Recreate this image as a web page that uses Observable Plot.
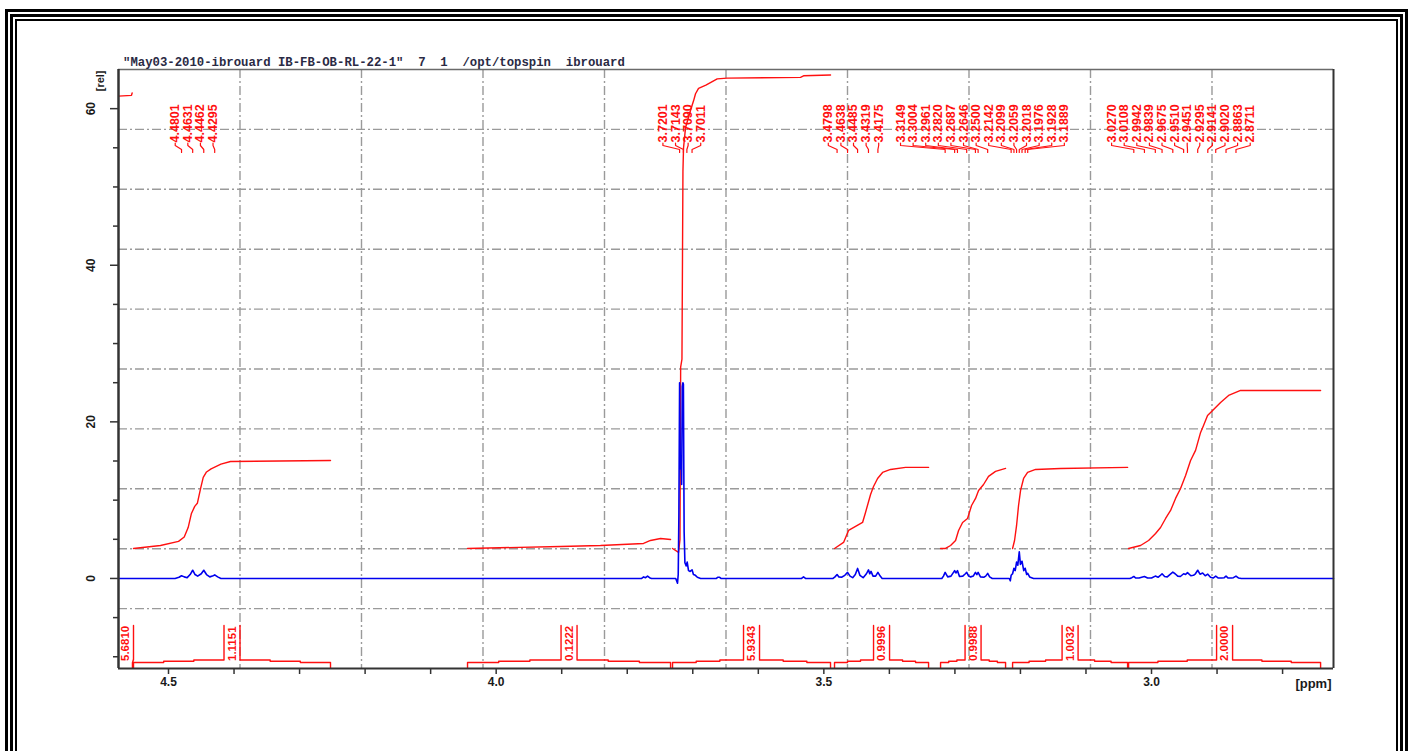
<!DOCTYPE html>
<html><head><meta charset="utf-8">
<script src="https://cdn.jsdelivr.net/npm/d3@7"></script>
<script src="https://cdn.jsdelivr.net/npm/@observablehq/plot@0.6"></script>
<style>
html,body{margin:0;padding:0;background:#fff;width:1412px;height:751px;overflow:hidden;}
#wrap{position:relative;width:1412px;height:751px;overflow:hidden;}
#chart{position:absolute;left:0;top:0;}
.bd{position:absolute;border-style:solid;border-color:#000;box-sizing:border-box;}
#title{position:absolute;left:123px;top:56px;font-family:"Liberation Mono","DejaVu Sans Mono",monospace;font-weight:bold;font-size:12.3px;color:#2a2a44;white-space:pre;letter-spacing:0;}
</style></head>
<body><div id="wrap">
<div id="chart"></div>
<div class="bd" style="left:5px;top:9px;width:1403px;height:800px;border-width:3px;"></div>
<div class="bd" style="left:10px;top:14px;width:1393px;height:800px;border-width:3px;"></div>
<div class="bd" style="left:15px;top:19px;width:1383px;height:800px;border-width:2px;"></div>
<div id="title">"May03-2010-ibrouard IB-FB-OB-RL-22-1"  7  1  /opt/topspin  ibrouard</div>
</div>
<script>
// ---------- data ----------
const xMajorTicks = [4.5, 4.0, 3.5, 3.0];
const xMinorTicks = [4.4, 4.3, 4.2, 4.1, 3.9, 3.8, 3.7, 3.6, 3.4, 3.3, 3.2, 3.1, 2.9, 2.8];
const yMajorTicks = [0, 20, 40, 60];
const yMinorTicks = [-10, -5, 5, 10, 15, 25, 30, 35, 45, 50, 55];

// 1H spectrum trace [ppm, intensity]
const spectrum = [
  [4.5763, 0], [4.4900, 0], [4.4840, 0.15], [4.4801, 0.35], [4.4760, 0.2], [4.4715, 0.1],
  [4.4670, 0.5], [4.4631, 1.05], [4.4595, 0.5], [4.4555, 0.3], [4.4500, 0.6], [4.4462, 1.05],
  [4.4420, 0.5], [4.4370, 0.2], [4.4330, 0.3], [4.4295, 0.45], [4.4250, 0.2], [4.4200, 0],
  [3.7780, 0], [3.7750, 0.2], [3.7720, 0.1], [3.7690, 0.3], [3.7660, 0.1], [3.7630, 0],
  [3.7260, 0], [3.7233, -0.6], [3.7222, 0.5], [3.7212, 8], [3.7201, 25], [3.7190, 14],
  [3.7180, 15.5], [3.7170, 12], [3.7160, 24.5], [3.7150, 25], [3.7143, 24.8], [3.7132, 6],
  [3.7120, 2.0], [3.7100, 1.6], [3.7085, 2.1], [3.7065, 1.0], [3.7040, 0.9], [3.7011, 1.1],
  [3.6990, 0.5], [3.6960, 0.4], [3.6930, 0.15], [3.6880, 0], [3.6640, 0], [3.6620, 0.15],
  [3.6590, 0.15], [3.6570, 0], [3.5340, 0], [3.5310, 0.2], [3.5280, 0],
  [3.4860, 0], [3.4830, 0.2], [3.4798, 0.5], [3.4770, 0.2], [3.4730, 0.15], [3.4680, 0.4],
  [3.4638, 0.77], [3.4600, 0.3], [3.4560, 0.1], [3.4520, 0.5], [3.4485, 1.28], [3.4450, 0.4],
  [3.4400, 0.1], [3.4350, 0.6], [3.4319, 1.1], [3.4300, 0.6], [3.4280, 0.9], [3.4250, 0.3],
  [3.4210, 0.3], [3.4175, 0.77], [3.4140, 0.3], [3.4110, 0],
  [3.3200, 0], [3.3175, 0.3], [3.3149, 0.77], [3.3110, 0.2], [3.3060, 0.3], [3.3004, 1.0],
  [3.2985, 0.7], [3.2961, 1.0], [3.2930, 0.25], [3.2880, 0.3], [3.2840, 0.6], [3.2820, 0.77],
  [3.2790, 0.3], [3.2760, 0.2], [3.2720, 0.3], [3.2687, 0.77], [3.2665, 0.5], [3.2646, 0.77],
  [3.2610, 0.2], [3.2560, 0.15], [3.2530, 0.3], [3.2500, 0.65], [3.2470, 0.2], [3.2430, 0],
  [3.2170, 0], [3.2155, -0.3], [3.2142, 0.4], [3.2120, 0.6], [3.2099, 1.3], [3.2080, 1.0],
  [3.2059, 2.1], [3.2040, 1.7], [3.2018, 3.4], [3.2000, 1.8], [3.1976, 2.2], [3.1950, 1.0],
  [3.1928, 1.3], [3.1905, 0.5], [3.1889, 0.65], [3.1860, 0.2], [3.1830, 0.1], [3.1800, 0],
  [3.0330, 0], [3.0300, 0.1], [3.0270, 0.25], [3.0240, 0.05], [3.0190, 0.05], [3.0150, 0.15],
  [3.0108, 0.25], [3.0060, 0.05], [3.0000, 0.05], [2.9942, 0.3], [2.9900, 0.15], [2.9870, 0.35],
  [2.9839, 0.6], [2.9800, 0.25], [2.9760, 0.2], [2.9720, 0.5], [2.9675, 0.8], [2.9640, 0.6],
  [2.9600, 0.3], [2.9560, 0.25], [2.9510, 0.6], [2.9480, 0.5], [2.9451, 0.75], [2.9400, 0.35],
  [2.9360, 0.4], [2.9330, 0.6], [2.9295, 1.05], [2.9260, 0.55], [2.9220, 0.7], [2.9180, 0.35],
  [2.9141, 0.55], [2.9100, 0.15], [2.9060, 0.05], [2.9020, 0.3], [2.8980, 0.05], [2.8930, 0.05],
  [2.8890, 0.1], [2.8863, 0.3], [2.8830, 0.05], [2.8780, 0.05], [2.8750, 0.1], [2.8711, 0.3],
  [2.8670, 0.05], [2.8630, 0], [2.7223, 0]
];

// integral curves [ppm, value]
const integralA = [[4.5763, 61.6], [4.5565, 61.7], [4.5555, 62.0]];
const integralB = [[4.5534, 3.83], [4.5122, 4.21], [4.4847, 4.73], [4.4760, 5.3], [4.4700, 6.5],
  [4.4650, 8.3], [4.4600, 9.2], [4.4560, 9.6], [4.4510, 11.5], [4.4470, 12.9], [4.4420, 13.6],
  [4.4350, 14.0], [4.4200, 14.6], [4.4054, 14.94], [4.2528, 15.07]];
const integralC = [[4.0437, 3.83], [3.9018, 4.09], [3.8408, 4.21], [3.7751, 4.47], [3.7645, 4.85],
  [3.7492, 5.11], [3.7339, 4.98]];
const integralD = [[3.7309, 3.83], [3.7217, 3.32], [3.7195, 5], [3.7185, 27], [3.7165, 28],
  [3.7150, 52], [3.7141, 55], [3.7110, 57.6], [3.7034, 59.8], [3.6988, 61.0], [3.6958, 61.9],
  [3.6912, 62.6], [3.6800, 63.0], [3.6627, 63.8], [3.6474, 63.9], [3.5356, 64.0], [3.5310, 64.2],
  [3.4898, 64.3]];
const integralE = [[3.4837, 3.83], [3.4699, 4.60], [3.4623, 6.13], [3.4516, 6.64], [3.4409, 7.15],
  [3.4364, 8.43], [3.4287, 10.73], [3.4242, 11.75], [3.4180, 12.77], [3.4104, 13.54],
  [3.3982, 13.92], [3.3753, 14.18], [3.3402, 14.18]];
const integralF = [[3.3219, 3.83], [3.3143, 3.83], [3.3066, 4.21], [3.2990, 4.85], [3.2944, 6.13],
  [3.2883, 7.15], [3.2807, 7.66], [3.2746, 9.32], [3.2685, 10.22], [3.2639, 11.24],
  [3.2563, 12.0], [3.2487, 13.03], [3.2380, 13.67], [3.2227, 14.05]];
const integralG = [[3.2120, 3.83], [3.2090, 4.85], [3.2059, 6.77], [3.2029, 9.32], [3.1998, 11.24],
  [3.1952, 12.77], [3.1891, 13.54], [3.1769, 13.92], [3.1388, 14.05], [3.0365, 14.18]];
const integralH = [[3.0350, 3.83], [3.0167, 4.21], [3.0045, 4.85], [2.9938, 5.75], [2.9862, 6.51],
  [2.9785, 7.66], [2.9709, 8.68], [2.9633, 10.22], [2.9557, 11.49], [2.9480, 13.15],
  [2.9404, 15.07], [2.9328, 16.35], [2.9251, 18.65], [2.9206, 19.54], [2.9145, 20.82],
  [2.9068, 21.46], [2.8946, 22.48], [2.8824, 23.37], [2.8641, 24.01], [2.7420, 24.01]];

const integralRegions = [[4.6000, 4.5550], [4.5534, 4.2528], [4.0437, 3.7339], [3.7309, 3.4898],
  [3.4837, 3.3402], [3.3219, 3.2227], [3.2120, 3.0365], [3.0350, 2.7420]];
const integralValues = ["5.6810", "1.1151", "0.1222", "5.9343", "0.9996", "0.9988", "1.0032", "2.0000"];

const peakGroups = [
  [4.4801, 4.4631, 4.4462, 4.4295],
  [3.7201, 3.7143, 3.7090, 3.7011],
  [3.4798, 3.4638, 3.4485, 3.4319, 3.4175],
  [3.3149, 3.3004, 3.2961, 3.2820, 3.2687, 3.2646, 3.2500, 3.2142, 3.2099, 3.2059, 3.2018, 3.1976, 3.1928, 3.1889],
  [3.0270, 3.0108, 2.9942, 2.9839, 2.9675, 2.9510, 2.9451, 2.9295, 2.9141, 2.9020, 2.8863, 2.8711]
];

// ---------- layout ----------
const W = 1412, H = 751, ML = 118, MR = 79, MT = 69, MB = 83;
const xDomain = [4.5763, 2.7223];
const yDomain = [-11.5, 65];
const PW = W - ML - MR, PH = H - MT - MB;
const px2ppm = px => xDomain[0] + (px - ML) / PW * (xDomain[1] - xDomain[0]);
const ppm2px = v => ML + (v - xDomain[0]) / (xDomain[1] - xDomain[0]) * PW;
const py2val = py => yDomain[1] - (py - MT) / PH * (yDomain[1] - yDomain[0]);

const gridX = d3.range(1, 10).map(k => xDomain[0] + k * (xDomain[1] - xDomain[0]) / 10);
const gridY = d3.range(1, 10).map(k => yDomain[0] + k * (yDomain[1] - yDomain[0]) / 10);

const integrals = [integralA, integralB, integralC, integralD, integralE, integralF, integralG, integralH]
  .flatMap((seg, i) => seg.map(([x, y]) => ({x, y, seg: i})));
const spec = spectrum.map(([x, y]) => ({x, y}));

// integral brackets along the bottom
const bracketPts = [], bracketText = [];
integralRegions.forEach(([a, b], i) => {
  const ax = ppm2px(a), bx = ppm2px(b);
  let c = (ax + bx) / 2;
  c = Math.max(c, ML + 7); c = Math.min(c, W - MR - 7);
  const l = c - 8, r = c + 8;
  const s1 = ax + (l - ax) / 3, s2 = ax + 2 * (l - ax) / 3;
  const s3 = r + (bx - r) / 3, s4 = r + 2 * (bx - r) / 3;
  const left = [[ax, 668], [ax, 662], [s1, 662], [s1, 660.8], [s2, 660.8], [s2, 659.5], [l, 659.5], [l, 625]];
  const right = [[r, 625], [r, 659.5], [s3, 659.5], [s3, 660.8], [s4, 660.8], [s4, 662], [bx, 662], [bx, 668]];
  left.forEach(([x, y]) => bracketPts.push({x: px2ppm(x), y: py2val(y), id: i + "L"}));
  right.forEach(([x, y]) => bracketPts.push({x: px2ppm(x), y: py2val(y), id: i + "R"}));
  bracketText.push({x: px2ppm(c), y: py2val(660.5), t: integralValues[i]});
});

// peak labels and leaders
const SP = 12.6;
const labelPts = [], leaderPts = [];
peakGroups.forEach((g, gi) => {
  const p = g.map(ppm2px);
  const center = (p[0] + p[p.length - 1]) / 2 - 4;
  g.forEach((v, i) => {
    const lx = center + (i - (g.length - 1) / 2) * SP;
    labelPts.push({x: px2ppm(lx), y: py2val(142), t: v.toFixed(4)});
    const id = gi + "-" + i;
    [[lx, 142.5], [lx, 145], [p[i], 149], [p[i], 152]].forEach(([x, y]) =>
      leaderPts.push({x: px2ppm(x), y: py2val(y), id}));
  });
});

const RED = "#ff1010", BLUE = "#0000ee";
const chart = Plot.plot({
  width: W, height: H,
  marginLeft: ML, marginRight: MR, marginTop: MT, marginBottom: MB,
  x: {domain: xDomain, axis: null},
  y: {domain: yDomain, axis: null},
  style: {fontFamily: "'Liberation Sans', Arial, sans-serif", background: "transparent", overflow: "visible"},
  marks: [
    Plot.ruleX(gridX, {stroke: "#9a9a9a", strokeWidth: 1.4, strokeDasharray: "9,3,2,3"}),
    Plot.ruleY(gridY, {stroke: "#9a9a9a", strokeWidth: 1.4, strokeDasharray: "9,3,2,3"}),
    Plot.line(integrals, {x: "x", y: "y", z: "seg", stroke: RED, strokeWidth: 1.4, clip: true}),
    Plot.line(bracketPts, {x: "x", y: "y", z: "id", stroke: RED, strokeWidth: 1.4, clip: true}),
    Plot.text(bracketText, {x: "x", y: "y", text: "t", rotate: -90, textAnchor: "start", lineAnchor: "middle",
      fill: RED, fontSize: 11.5, fontWeight: "bold"}),
    Plot.line(spec, {x: "x", y: "y", stroke: BLUE, strokeWidth: 1.6}),
    Plot.line(leaderPts, {x: "x", y: "y", z: "id", stroke: RED, strokeWidth: 1.2}),
    Plot.text(labelPts, {x: "x", y: "y", text: "t", rotate: -90, textAnchor: "start", lineAnchor: "middle",
      fill: RED, fontSize: 12.5, fontWeight: "bold"}),
    // frame
    Plot.ruleY([yDomain[1]], {stroke: "#6a6a6a", strokeWidth: 1.5}),
    Plot.ruleX([xDomain[1]], {stroke: "#333", strokeWidth: 2}),
    Plot.ruleX([xDomain[0]], {stroke: "#333", strokeWidth: 2.5}),
    Plot.ruleY([yDomain[0]], {stroke: "#333", strokeWidth: 2}),
    // axes
    Plot.axisX({ticks: xMajorTicks, tickFormat: d => d.toFixed(1), tickSize: 6, tickPadding: 3,
      fontSize: 12, fontWeight: "bold", fill: "#1a1a1a", stroke: "#333", strokeWidth: 1.5, label: null}),
    Plot.axisX({ticks: xMinorTicks, tickFormat: () => "", tickSize: 6, stroke: "#333", strokeWidth: 1.5, label: null}),
    Plot.axisY({ticks: yMajorTicks, tickFormat: d => String(d), tickSize: 8, tickPadding: 16, tickRotate: -90,
      fontSize: 12, fontWeight: "bold", fill: "#1a1a1a", stroke: "#333", strokeWidth: 1.5, label: null}),
    Plot.axisY({ticks: yMinorTicks, tickFormat: () => "", tickSize: 5, stroke: "#333", strokeWidth: 1.5, label: null}),
    Plot.text(["[rel]"], {frameAnchor: "top-left", text: d => d, rotate: -90, textAnchor: "end", lineAnchor: "middle",
      dx: -18, dy: 1, fontSize: 11, fontWeight: "bold", fill: "#1a1a1a"}),
    Plot.text(["[ppm]"], {frameAnchor: "bottom-right", text: d => d, textAnchor: "end", lineAnchor: "middle",
      dx: -2, dy: 15, fontSize: 13, fontWeight: "bold", fill: "#1a1a1a"})
  ]
});
document.getElementById("chart").appendChild(chart);
</script>
</body></html>
